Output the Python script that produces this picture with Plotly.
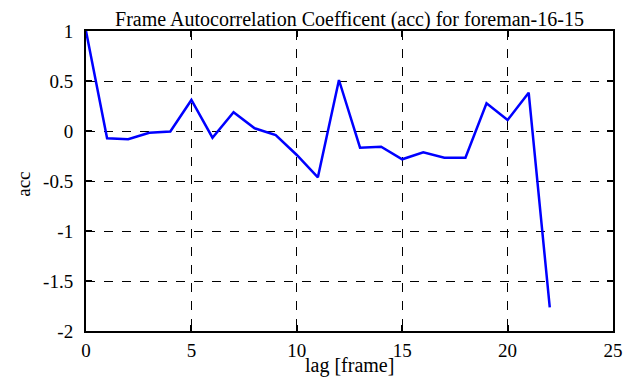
import plotly.graph_objects as go

lags = list(range(0, 23))
acc = [1.0, -0.073, -0.083, -0.017, -0.005, 0.31, -0.067, 0.187, 0.027, -0.04,
       -0.24, -0.463, 0.51, -0.167, -0.157, -0.283, -0.213, -0.267, -0.267,
       0.277, 0.11, 0.383, -1.763]

x_ticks = [0, 5, 10, 15, 20, 25]
y_ticks = [1, 0.5, 0, -0.5, -1, -1.5, -2]

title_text = "Frame Autocorrelation Coefficent (acc) for foreman-16-15"
x_title = "lag [frame]"
y_title = "acc"

font_family = "Liberation Serif"

fig = go.Figure()
fig.add_trace(go.Scatter(x=lags, y=acc, mode="lines",
                         line=dict(color="#0000ff", width=2.5), showlegend=False))

axis_common = dict(
    showline=True, linecolor="black", linewidth=2, mirror="ticks",
    ticks="inside", ticklen=6, tickwidth=2, tickcolor="black",
    showgrid=True, gridcolor="black", griddash="dash", gridwidth=1,
    zeroline=False, automargin=False,
    tickfont=dict(family=font_family, size=19, color="black"),
)

fig.update_xaxes(range=[0, 25], tickvals=x_ticks, ticktext=[str(v) for v in x_ticks],
                 ticklabelstandoff=1, **axis_common)
fig.update_yaxes(range=[-2, 1], tickvals=y_ticks, ticktext=[str(v) for v in y_ticks],
                 ticklabelstandoff=7, **axis_common)

fig.add_annotation(text=x_title, xref="paper", yref="paper", x=0.5, y=-0.115,
                   xanchor="center", yanchor="middle", showarrow=False,
                   font=dict(family=font_family, size=20, color="black"))
fig.add_annotation(text=y_title, xref="paper", yref="paper", x=-0.12, y=0.49,
                   xanchor="center", yanchor="middle", showarrow=False, textangle=-90,
                   font=dict(family=font_family, size=19, color="black"))

# the page body has an 8px default margin, so the figure is sized/offset to compensate
fig.update_layout(
    width=633, height=379,
    margin=dict(l=78, r=28, t=23, b=56),
    paper_bgcolor="white", plot_bgcolor="white",
    title=dict(text=title_text,
               x=0.5395, xanchor="center", y=0.99, yanchor="top", yref="container",
               font=dict(family=font_family, size=20, color="black")),
)

fig.write_html("out.html")
